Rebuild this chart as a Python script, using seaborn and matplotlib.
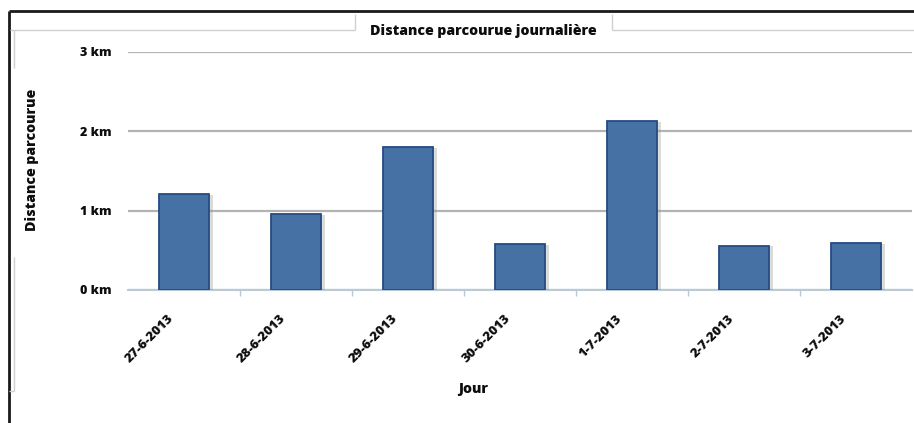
import matplotlib
matplotlib.use("Agg")
import matplotlib.pyplot as plt
import matplotlib.patheffects as pe
import matplotlib.transforms as mtrans
from matplotlib.lines import Line2D
import seaborn as sns
import pandas as pd

days = ["27-6-2013", "28-6-2013", "29-6-2013", "30-6-2013", "1-7-2013", "2-7-2013", "3-7-2013"]
distance_km = [1.21, 0.96, 1.80, 0.58, 2.13, 0.56, 0.59]
y_ticks = [0, 1, 2, 3]
y_tick_labels = ["0 km", "1 km", "2 km", "3 km"]

df = pd.DataFrame({"Jour": days, "Distance": distance_km})

sns.set_theme(style="white")
plt.rcParams["font.family"] = ["Open Sans", "DejaVu Sans"]

W, H = 914, 423
TXT = "#0d0d0d"
WEIGHT = 800
fig = plt.figure(figsize=(W / 100, H / 100), dpi=100)
ax = fig.add_axes([128 / W, (H - 290) / H, (912 - 128) / W, (290 - 52) / H])

sns.barplot(data=df, x="Jour", y="Distance", ax=ax, color="#4571a5",
            width=0.45, saturation=1, edgecolor="#234c82", linewidth=1.3, zorder=3)
for bar in ax.patches:
    bar.set_path_effects([pe.SimplePatchShadow(offset=(2.5, -0.5), shadow_rgbFace="#9a9a9a", alpha=0.35),
                          pe.Normal()])

ax.set_ylim(0, 3)
ax.set_xlim(-0.5, len(days) - 0.5)
ax.set_yticks(y_ticks)
ax.set_yticklabels(y_tick_labels, fontsize=9, fontweight=WEIGHT, color=TXT)
ax.yaxis.grid(True, color="#b3b3b3", linewidth=1.6, zorder=0)
ax.set_axisbelow(True)
for s in ["top", "right", "left"]:
    ax.spines[s].set_visible(False)
ax.spines["bottom"].set_color("#b9c9d9")
ax.spines["bottom"].set_linewidth(1.5)
ax.tick_params(axis="y", length=0, pad=12)

# category separator ticks on the x axis
ax.set_xticks([i + 0.5 for i in range(len(days) - 1)], minor=True)
ax.tick_params(axis="x", which="minor", length=4, width=1, color="#b9c9d9", direction="out", bottom=True)
ax.tick_params(axis="x", which="major", length=0, pad=4)
ax.set_xticks(range(len(days)))
ax.set_xticklabels(days, rotation=45, ha="right", rotation_mode="anchor",
                   fontsize=9.5, fontweight=WEIGHT, color=TXT)
offset = mtrans.ScaledTranslation(-16 / 100, -17 / 100, fig.dpi_scale_trans)
for lbl in ax.get_xticklabels():
    lbl.set_transform(lbl.get_transform() + offset)

ax.set_xlabel("")
ax.set_ylabel("")

fig.text(32 / W, 1 - 160 / H, "Distance parcourue", rotation=90, ha="center", va="center",
         fontsize=10.2, fontweight=WEIGHT, color=TXT)
fig.text(473 / W, 1 - 389 / H, "Jour", ha="center", va="center",
         fontsize=10.2, fontweight=WEIGHT, color=TXT)
fig.text(483 / W, 1 - 31 / H, "Distance parcourue journalière", ha="center", va="center",
         fontsize=10.2, fontweight=WEIGHT, color=TXT)


def px_line(xs, ys, color, lw):
    fig.add_artist(Line2D([x / W for x in xs], [1 - y / H for y in ys],
                          color=color, linewidth=lw, solid_capstyle="butt"))


# outer frame
px_line([9, 914], [11, 11], "#1a1a1a", 2.0)
px_line([9, 9], [11, 423], "#1a1a1a", 2.0)
# inner panel with title tab
gray = "#d0d0d0"
px_line([10, 355], [30, 30], gray, 1.0)
px_line([355, 355], [30, 14], gray, 1.0)
px_line([612, 612], [14, 30], gray, 1.0)
px_line([612, 914], [30, 30], gray, 1.0)
px_line([14, 14], [30, 68], gray, 1.0)
px_line([14, 14], [257, 391], gray, 1.0)
px_line([9, 14], [391, 391], gray, 1.0)

fig.savefig("out.png", dpi=100)
